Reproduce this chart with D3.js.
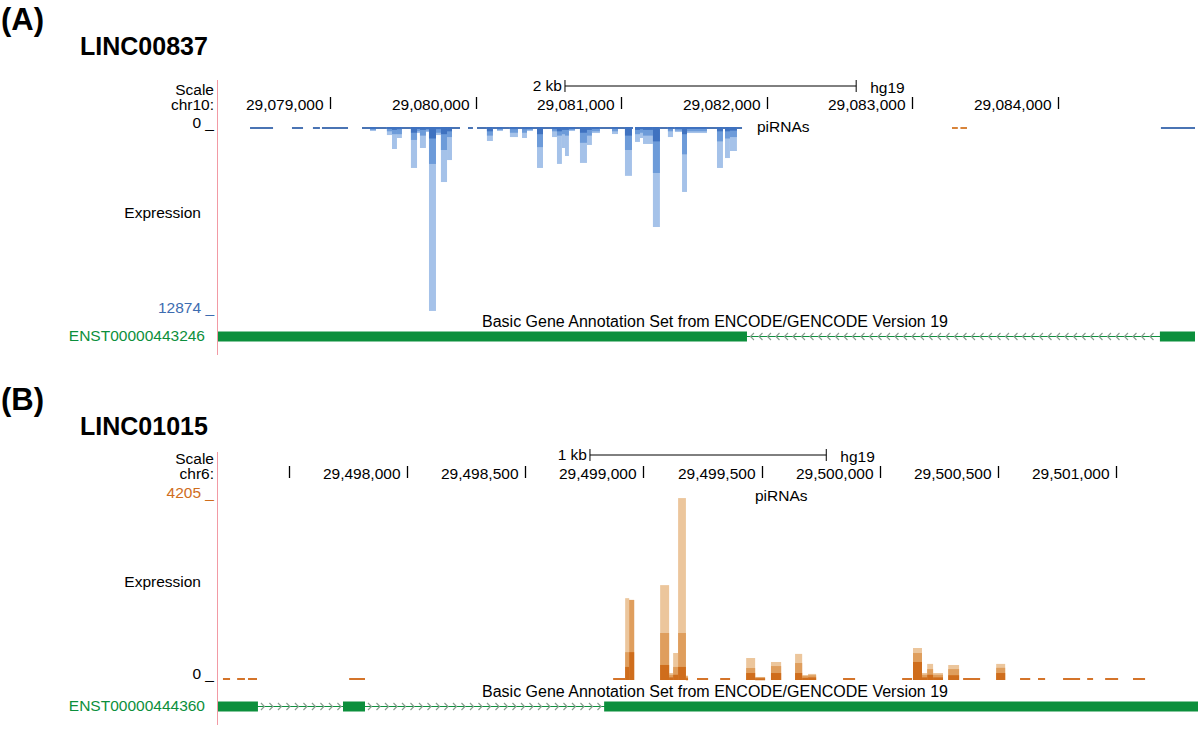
<!DOCTYPE html>
<html><head><meta charset="utf-8">
<script src="https://cdn.jsdelivr.net/npm/d3@7"></script>
<style>body{margin:0;background:#fff}svg{display:block;font-family:"Liberation Sans",Arial,sans-serif}</style>
</head><body><svg id="c" width="1200" height="729"></svg>
<script>
// ---------- Panel A data (LINC00837, chr10, minus strand piRNAs) ----------
const genesA = "LINC00837";
const chromA = "chr10:";
const domainA = [29078231, 29084941];
const ticksA = [29079000, 29080000, 29081000, 29082000, 29083000, 29084000];
const tickLabelsA = ["29,079,000", "29,080,000", "29,081,000", "29,082,000", "29,083,000", "29,084,000"];
const scaleBarA = [29080614, 29082614];
const maxA = 12874;
// low-coverage segments [start, end]
const segmentsA = [[29078451,29078609],[29078739,29078815],[29078883,29078931],[29078945,29079124],
  [29079220,29079893],[29079948,29079982],[29080010,29081081],[29081095,29081830],[29084707,29084941]];
const segmentsAplus = [[29083272,29083312],[29083330,29083375]];
// bars [start, end, total, mid, dark]
const barsA = [
 [29079275,29079316,280,200,100],[29079391,29079426,560,300,100],[29079426,29079460,1530,500,200],
 [29079460,29079494,765,500,150],[29079556,29079598,2850,900,400],[29079598,29079618,420,300,100],
 [29079618,29079659,1460,600,200],[29079659,29079680,350,250,100],[29079680,29079728,12800,2570,800],
 [29079728,29079762,560,400,150],[29079762,29079804,3830,1600,500],[29079804,29079838,2300,700,300],
 [29080078,29080119,975,600,300],[29080147,29080188,280,200,100],[29080236,29080291,700,400,150],
 [29080319,29080353,765,400,150],[29080353,29080394,280,200,100],[29080422,29080463,2850,1400,500],
 [29080525,29080559,700,300,150],[29080559,29080593,2570,600,300],[29080593,29080614,1460,500,200],
 [29080614,29080641,2020,600,200],[29080641,29080683,280,200,100],[29080717,29080765,2500,1100,400],
 [29080765,29080799,1250,600,200],[29080799,29080854,420,300,100],[29080937,29080978,490,300,100],
 [29081026,29081074,3400,1600,600],[29081095,29081129,1040,500,200],[29081129,29081150,765,400,150],
 [29081150,29081218,1180,600,200],[29081218,29081266,6960,3200,1000],[29081321,29081356,700,300,150],
 [29081369,29081418,350,250,100],[29081418,29081452,4520,1900,500],[29081452,29081589,420,300,100],
 [29081658,29081699,2850,1000,300],[29081713,29081747,2160,800,300],[29081747,29081795,1670,700,250]
];
const exonsA = [[29078231,29081864],[29084700,29084941]];
const transcriptA = "ENST00000443246";

// ---------- Panel B data (LINC01015, chr6, plus strand piRNAs) ----------
const genesB = "LINC01015";
const chromB = "chr6:";
const domainB = [29497200, 29501347];
const ticksB = [29497500, 29498000, 29498500, 29499000, 29499500, 29500000, 29500500, 29501000];
const tickLabelsB = ["", "29,498,000", "29,498,500", "29,499,000", "29,499,500", "29,500,000", "29,500,500", "29,501,000"];
const scaleBarB = [29498774, 29499774];
const maxB = 4205;
const segmentsB = [[29497221,29497251],[29497281,29497314],[29497327,29497365],[29497755,29497822],
  [29498872,29498923],[29499227,29499274],[29499325,29499367],[29499845,29499896],[29500095,29500137],
  [29500353,29500425],[29500594,29500637],[29500670,29500700],[29500776,29500848],[29500878,29500903],
  [29500954,29501009],[29501072,29501123]];
const barsB = [
 [29498923,29498940,1880,640,300],[29498940,29498961,1840,1840,640],
 [29499071,29499109,2180,1080,345],[29499109,29499126,160,120,60],[29499126,29499147,620,300,120],
 [29499147,29499180,4180,1080,300],[29499180,29499189,100,80,40],
 [29499435,29499473,505,275,160],[29499473,29499515,70,60,40],[29499540,29499583,414,320,160],
 [29499642,29499672,600,390,160],[29499672,29499697,115,90,50],[29499697,29499731,140,110,60],
 [29500141,29500179,735,620,414],[29500179,29500201,160,120,60],[29500201,29500226,370,250,120],
 [29500226,29500268,160,120,60],[29500290,29500336,345,250,110],[29500493,29500531,370,280,160]
];
const exonsB = [[29497200,29497369],[29497729,29497822],[29498834,29501347]];
const transcriptB = "ENST00000444360";

const annotLabel = "Basic Gene Annotation Set from ENCODE/GENCODE Version 19";

const svg = d3.select("#c");
svg.append("rect").attr("width",1200).attr("height",729).attr("fill","#fff");

function panel(o) {
  const g = svg.append("g");
  const x = d3.scaleLinear().domain(o.domain).range([218, o.right]);
  const y = d3.scaleLinear().domain([0, o.max]).range([o.base, o.far]);
  // titles
  g.append("text").attr("x",1).attr("y",o.labY).attr("font-size",31).attr("font-weight","bold").text(o.label);
  g.append("text").attr("x",80).attr("y",o.nameY).attr("font-size",25).attr("font-weight","bold").text(o.gene);
  // pink left line
  g.append("line").attr("x1",217.5).attr("x2",217.5).attr("y1",o.pinkTop).attr("y2",o.pinkBottom)
    .attr("stroke","#f29aa4").attr("stroke-width",1);
  const fs = 15.5;
  g.append("text").attr("x",214).attr("y",o.scaleY).attr("font-size",fs).attr("text-anchor","end").text("Scale");
  g.append("text").attr("x",214).attr("y",o.chrY).attr("font-size",fs).attr("text-anchor","end").text(o.chrom);
  // scale bar
  const sb = o.scaleBar.map(x);
  g.append("line").attr("x1",sb[0]).attr("x2",sb[1]).attr("y1",o.sbY).attr("y2",o.sbY).attr("stroke","#000");
  sb.forEach(v => g.append("line").attr("x1",v).attr("x2",v).attr("y1",o.sbY-6).attr("y2",o.sbY+6).attr("stroke","#000"));
  g.append("text").attr("x",sb[0]-3).attr("y",o.sbY+5).attr("font-size",fs).attr("text-anchor","end").text(o.sbLabel);
  g.append("text").attr("x",sb[1]+14).attr("y",o.sbY+7).attr("font-size",fs).text("hg19");
  // ticks
  o.ticks.forEach((t,i) => {
    const tx = Math.round(x(t)) + 0.5;
    g.append("line").attr("x1",tx).attr("x2",tx).attr("y1",o.chrY-13).attr("y2",o.chrY-1).attr("stroke","#000").attr("stroke-width",1.3);
    if (o.tickLabels[i]) g.append("text").attr("x",tx-7).attr("y",o.chrY).attr("font-size",fs).attr("text-anchor","end").text(o.tickLabels[i]);
  });
  // value labels
  g.append("text").attr("x",214).attr("y",o.zeroY).attr("font-size",fs).attr("text-anchor","end").text("0 _");
  g.append("text").attr("x",214).attr("y",o.maxY).attr("font-size",fs).attr("text-anchor","end").attr("fill",o.maxColor).text(o.max + " _");
  g.append("text").attr("x",201).attr("y",o.exprY).attr("font-size",fs).attr("text-anchor","end").text("Expression");
  g.append("text").attr("x",o.piX).attr("y",o.piY).attr("font-size",fs).text("piRNAs");
  // segments
  const segG = g.append("g");
  o.segments.forEach(s => segG.append("rect").attr("x",x(s[0])).attr("width",Math.max(1,x(s[1])-x(s[0])))
    .attr("y",o.down ? o.base : o.base-2).attr("height",2).attr("fill",o.segColor));
  (o.segments2||[]).forEach(s => segG.append("rect").attr("x",x(s[0])).attr("width",Math.max(1,x(s[1])-x(s[0])))
    .attr("y",o.down ? o.base : o.base-2).attr("height",2).attr("fill",o.seg2Color));
  // bars
  const layers = [[2,o.colors[0]],[3,o.colors[1]],[4,o.colors[2]]];
  layers.forEach(([k,col]) => {
    g.append("g").selectAll("rect").data(o.bars).join("rect")
      .attr("x", d => x(d[0])).attr("width", d => Math.max(1, x(d[1]) - x(d[0])))
      .attr("y", d => o.down ? o.base : y(d[k]))
      .attr("height", d => Math.max(2, Math.abs(y(d[k]) - o.base)))
      .attr("fill", col);
  });
  // gene annotation
  g.append("text").attr("x",o.annotX).attr("y",o.annotY).attr("font-size",16).attr("text-anchor","middle").text(annotLabel);
  g.append("text").attr("x",205).attr("y",o.geneY+5).attr("font-size",fs).attr("text-anchor","end").attr("fill","#0c8f3c").text(o.transcript);
  const gx0 = x(o.exons[0][0]), gx1 = x(o.exons[o.exons.length-1][1]);
  g.append("line").attr("x1",gx0).attr("x2",gx1).attr("y1",o.geneY+0.5).attr("y2",o.geneY+0.5).attr("stroke","#0c8f3c").attr("stroke-width",1);
  for (let i=0;i<o.exons.length-1;i++) {
    const a = x(o.exons[i][1]), b = x(o.exons[i+1][0]);
    d3.range(a+5, b-3, 8.5).forEach(cx => {
      const d = o.strand < 0 ? `M${cx+2},${o.geneY-3}L${cx-1.5},${o.geneY+0.5}L${cx+2},${o.geneY+4}`
                             : `M${cx-2},${o.geneY-3}L${cx+1.5},${o.geneY+0.5}L${cx-2},${o.geneY+4}`;
      g.append("path").attr("d",d).attr("fill","none").attr("stroke","#8a9f90").attr("stroke-width",1.2);
    });
  }
  o.exons.forEach(e => g.append("rect").attr("x",x(e[0])).attr("width",x(e[1])-x(e[0]))
    .attr("y",o.geneY-4.5).attr("height",10).attr("fill","#0c8f3c"));
}

panel({label:"(A)", labY:30, gene:genesA, nameY:55, chrom:chromA, domain:domainA, right:1195,
  max:maxA, base:127, far:312, down:true, pinkTop:80, pinkBottom:355, scaleY:95, chrY:110,
  scaleBar:scaleBarA, sbY:86, sbLabel:"2 kb", ticks:ticksA, tickLabels:tickLabelsA,
  zeroY:128, maxY:313, maxColor:"#3d6cb0", exprY:218, piX:757, piY:132,
  segments:segmentsA, segColor:"#4a74b4", segments2:segmentsAplus, seg2Color:"#d8843a",
  bars:barsA, colors:["#a5c2e9","#6d9bd9","#3f72c0"],
  annotX:715, annotY:327, geneY:336, transcript:transcriptA, exons:exonsA, strand:-1});

panel({label:"(B)", labY:410, gene:genesB, nameY:435, chrom:chromB, domain:domainB, right:1198,
  max:maxB, base:680, far:497, down:false, pinkTop:452, pinkBottom:725, scaleY:464, chrY:479,
  scaleBar:scaleBarB, sbY:455, sbLabel:"1 kb", ticks:ticksB, tickLabels:tickLabelsB,
  zeroY:679, maxY:498, maxColor:"#cf6d1c", exprY:587, piX:755, piY:501,
  segments:segmentsB, segColor:"#d4742a",
  bars:barsB, colors:["#ecc69c","#df9e5d","#cf6d1c"],
  annotX:715, annotY:697, geneY:706, transcript:transcriptB, exons:exonsB, strand:1});
</script></body></html>
